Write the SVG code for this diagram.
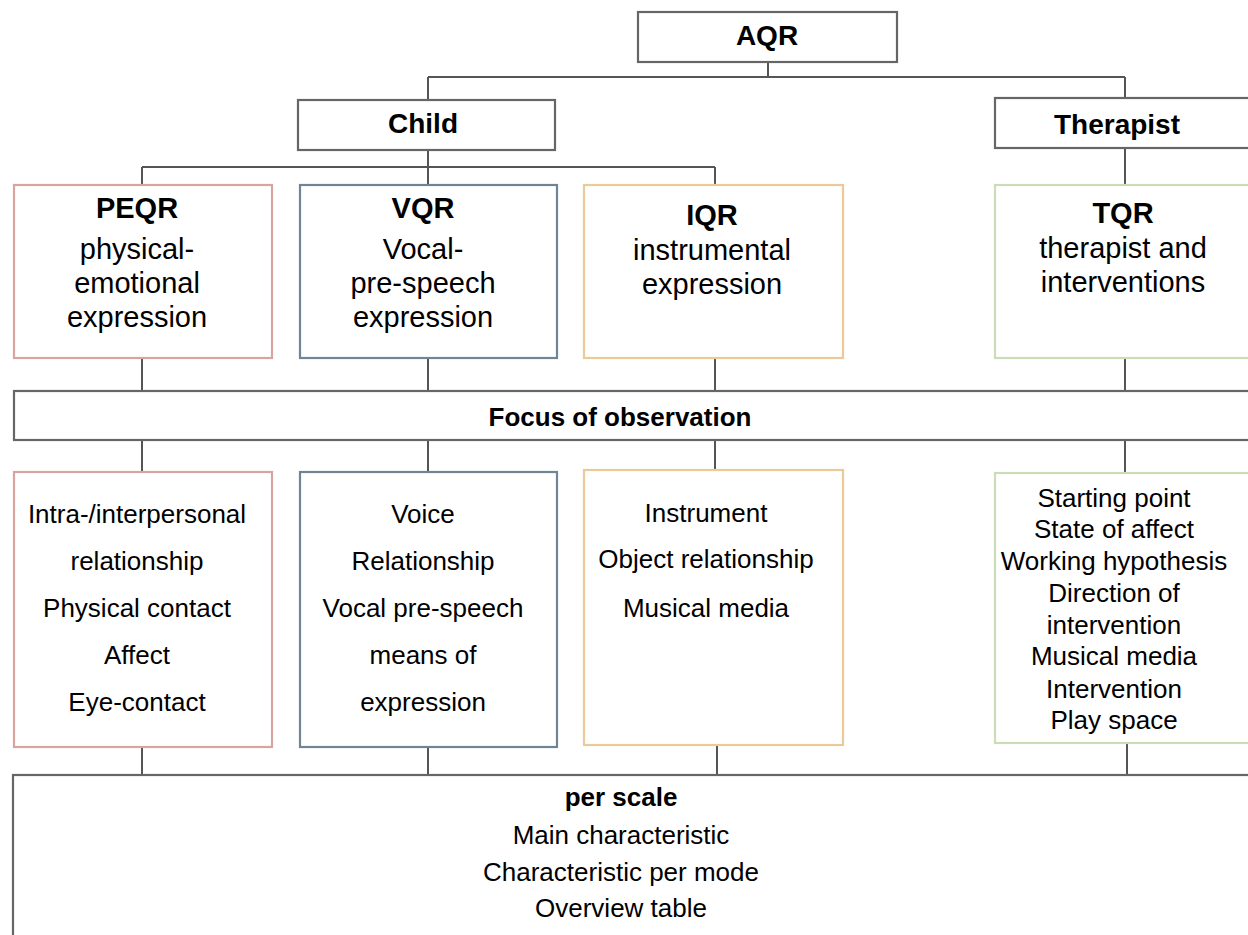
<svg xmlns="http://www.w3.org/2000/svg" width="1248" height="935" viewBox="0 0 1248 935">
<style>
  text { font-family: "Liberation Sans", Arial, sans-serif; fill: #000; text-anchor: middle; }
  .hdr { font-size: 28px; font-weight: bold; }
  .ttl { font-size: 29px; font-weight: bold; }
  .sub { font-size: 29px; }
  .itm { font-size: 26px; }
  .bold26 { font-size: 26px; font-weight: bold; }
  .box { fill: #fff; stroke: #666; stroke-width: 2.2; }
  .red { fill: #fff; stroke: #d9a4a0; stroke-width: 2.2; }
  .blue { fill: #fff; stroke: #6f8596; stroke-width: 2.2; }
  .orange { fill: #fff; stroke: #ecc998; stroke-width: 2.2; }
  .green { fill: #fff; stroke: #cddcb8; stroke-width: 2.2; }
  .conn { fill: none; stroke: #555; stroke-width: 2; }
</style>
<rect width="1248" height="935" fill="#fff"/>

<g id="connectors">
  <path class="conn" d="M768 62 V77 M428 77 H1125 M428 77 V100 M1125 77 V98"/>
  <path class="conn" d="M428 150 V167 M142 167 H715 M142 167 V185 M428 167 V185 M715 167 V185"/>
  <path class="conn" d="M1125 148 V185"/>
  <path class="conn" d="M142 358 V391 M428 358 V391 M715 358 V391 M1125 358 V391"/>
  <path class="conn" d="M142 440 V472 M428 440 V472 M715 440 V470 M1125 440 V473"/>
  <path class="conn" d="M142 747 V775 M428 747 V775 M717 745 V775 M1127 743 V775"/>
</g>

<g id="aqr">
  <rect class="box" x="638" y="12" width="259" height="50"/>
  <text class="hdr" x="767" y="45">AQR</text>
</g>
<g id="child">
  <rect class="box" x="298" y="100" width="257" height="50"/>
  <text class="hdr" x="423" y="133">Child</text>
</g>
<g id="therapist">
  <rect class="box" x="995" y="98" width="270" height="50"/>
  <text class="hdr" x="1117" y="134">Therapist</text>
</g>

<g id="peqr">
  <rect class="red" x="14" y="185" width="258" height="173"/>
  <text class="ttl" x="137" y="218">PEQR</text>
  <text class="sub" x="137" y="259">physical-</text>
  <text class="sub" x="137" y="293">emotional</text>
  <text class="sub" x="137" y="327">expression</text>
</g>
<g id="vqr">
  <rect class="blue" x="300" y="185" width="257" height="173"/>
  <text class="ttl" x="423" y="218">VQR</text>
  <text class="sub" x="423" y="259">Vocal-</text>
  <text class="sub" x="423" y="293">pre-speech</text>
  <text class="sub" x="423" y="327">expression</text>
</g>
<g id="iqr">
  <rect class="orange" x="584" y="185" width="259" height="173"/>
  <text class="ttl" x="712" y="225">IQR</text>
  <text class="sub" x="712" y="260">instrumental</text>
  <text class="sub" x="712" y="294">expression</text>
</g>
<g id="tqr">
  <rect class="green" x="995" y="185" width="270" height="173"/>
  <text class="ttl" x="1123" y="223">TQR</text>
  <text class="sub" x="1123" y="258">therapist and</text>
  <text class="sub" x="1123" y="292">interventions</text>
</g>

<g id="focus">
  <rect class="box" x="14" y="391" width="1250" height="49"/>
  <text class="bold26" x="620" y="426">Focus of observation</text>
</g>

<g id="peqr-focus">
  <rect class="red" x="14" y="472" width="258" height="275"/>
  <text class="itm" x="137" y="523">Intra-/interpersonal</text>
  <text class="itm" x="137" y="570">relationship</text>
  <text class="itm" x="137" y="617">Physical contact</text>
  <text class="itm" x="137" y="664">Affect</text>
  <text class="itm" x="137" y="711">Eye-contact</text>
</g>
<g id="vqr-focus">
  <rect class="blue" x="300" y="472" width="257" height="275"/>
  <text class="itm" x="423" y="523">Voice</text>
  <text class="itm" x="423" y="570">Relationship</text>
  <text class="itm" x="423" y="617">Vocal pre-speech</text>
  <text class="itm" x="423" y="664">means of</text>
  <text class="itm" x="423" y="711">expression</text>
</g>
<g id="iqr-focus">
  <rect class="orange" x="584" y="470" width="259" height="275"/>
  <text class="itm" x="706" y="522">Instrument</text>
  <text class="itm" x="706" y="568">Object relationship</text>
  <text class="itm" x="706" y="617">Musical media</text>
</g>
<g id="tqr-focus">
  <rect class="green" x="995" y="473" width="270" height="270"/>
  <text class="itm" x="1114" y="507">Starting point</text>
  <text class="itm" x="1114" y="538">State of affect</text>
  <text class="itm" x="1114" y="570">Working hypothesis</text>
  <text class="itm" x="1114" y="602">Direction of</text>
  <text class="itm" x="1114" y="634">intervention</text>
  <text class="itm" x="1114" y="665">Musical media</text>
  <text class="itm" x="1114" y="698">Intervention</text>
  <text class="itm" x="1114" y="729">Play space</text>
</g>

<g id="per-scale">
  <rect class="box" x="13" y="775" width="1252" height="175"/>
  <text class="bold26" x="621" y="806">per scale</text>
  <text class="itm" x="621" y="844">Main characteristic</text>
  <text class="itm" x="621" y="881">Characteristic per mode</text>
  <text class="itm" x="621" y="917">Overview table</text>
</g>
</svg>
